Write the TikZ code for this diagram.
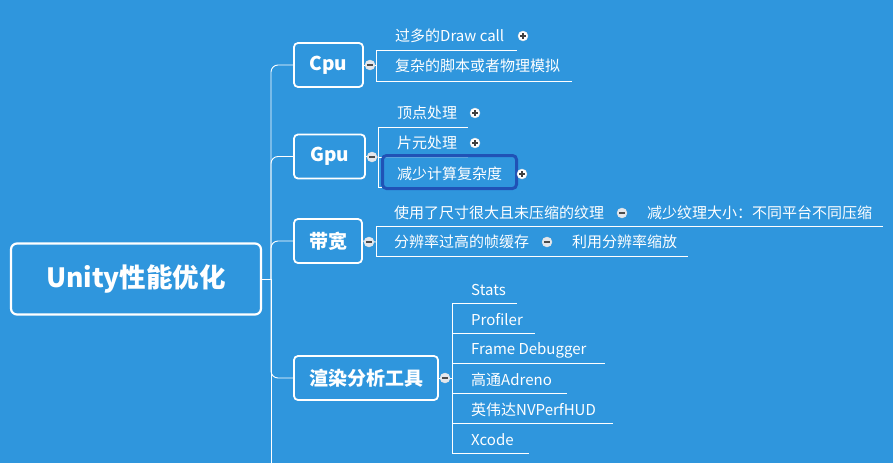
\documentclass[tikz,border=0pt]{standalone}
\usepackage{fontspec}
\setmainfont{Noto Sans CJK SC}
\definecolor{bg}{RGB}{47,150,221}
\definecolor{selc}{RGB}{32,82,182}
\definecolor{knob}{RGB}{228,231,236}
\begin{document}
\begin{tikzpicture}[x=1pt,y=-1pt,
  line/.style={draw=white,line width=0.9pt},
  topicbox/.style={draw=white,line width=1.8pt,rounded corners=4pt,text=white,
    font=\bfseries\fontsize{19}{22}\selectfont,inner sep=0pt,minimum height=44pt},
  leaf/.style={anchor=west,inner sep=0pt,text=white,font=\fontsize{15}{18}\selectfont},
  minusknob/.style={circle,fill=knob,draw=white!80!gray,line width=0.4pt,minimum size=10pt,inner sep=0pt,
    path picture={\draw[black!70,line width=1.3pt] ([xshift=-2.6pt]path picture bounding box.center) -- ([xshift=2.6pt]path picture bounding box.center);}},
  plusknob/.style={circle,fill=white,draw=white!80!gray,line width=0.4pt,minimum size=10pt,inner sep=0pt,
    path picture={\draw[black!75,line width=1.2pt] ([xshift=-2.6pt]path picture bounding box.center) -- ([xshift=2.6pt]path picture bounding box.center)
      ([yshift=-2.6pt]path picture bounding box.center) -- ([yshift=2.6pt]path picture bounding box.center);}}
]
\fill[bg] (0,0) rectangle (893,463);
\useasboundingbox (0,0) rectangle (893,463);

% root
\node[draw=white,line width=2.2pt,rounded corners=6pt,minimum width=250pt,minimum height=71pt,inner sep=0pt,
  text=white,font=\bfseries\fontsize{26.5}{30}\selectfont] (root) at (136,279) {Unity性能优化};

% main topics
\node[topicbox,minimum width=69pt] (cpu) at (328.5,65) {Cpu};
\node[topicbox,minimum width=71pt] (gpu) at (329.5,156.5) {Gpu};
\node[topicbox,minimum width=68pt] (bw) at (328,241) {带宽};
\node[topicbox,minimum width=144pt] (tool) at (366,378) {渲染分析工具};

% trunk
\coordinate (hub) at (271,279);
\coordinate (bottom) at (271,470);
\draw[line] (root.east) -- (hub);
\draw[line,rounded corners=7pt] (hub) |- (cpu.west);
\draw[line,rounded corners=7pt] (hub) |- (gpu.west);
\draw[line,rounded corners=7pt] (hub) |- (bw.west);
\draw[line,rounded corners=7pt] (hub) |- (tool.west);
\draw[line] (hub) -- (bottom);

% ---------- Cpu ----------
\coordinate (cpuT) at (376,50); \coordinate (cpuTE) at (517,50);
\coordinate (cpuB) at (376,81); \coordinate (cpuBE) at (572,81);
\coordinate (cpuM) at (376,65);
\draw[line] (cpuT) -- (cpuTE);
\draw[line] (cpuB) -- (cpuBE);
\draw[line] (cpuT) -- (cpuB);
\draw[line] (cpu.east) -- (cpuM);
\node[minusknob] (cpuK) at (370,65) {};
\node[leaf] (c1) at (395,36) {过多的Draw call};
\node[leaf] (c2) at (395,66) {复杂的脚本或者物理模拟};
\node[plusknob] (c1p) at (523,36) {};

% ---------- Gpu ----------
\coordinate (gpuT) at (378,127); \coordinate (gpuTE) at (468,127);
\coordinate (gpuMid) at (378,157); \coordinate (gpuME) at (468,157);
\coordinate (gpuB) at (378,187); \coordinate (gpuBE) at (515,187);
\draw[line] (gpuT) -- (gpuTE);
\draw[line] (gpuMid) -- (gpuME);
\draw[line] (gpuB) -- (gpuBE);
\draw[line] (gpuT) -- (gpuB);
\draw[line] (gpu.east) -- (gpuMid);
\node[minusknob] (gpuK) at (372,157) {};
\node[leaf] (g1) at (397,113) {顶点处理};
\node[leaf] (g2) at (397,143) {片元处理};
\draw[selc,line width=3pt,rounded corners=4pt,fill=bg,fill opacity=0.75] (382.5,155.5) rectangle (516.5,188.5);
\node[leaf] (g3) at (397,174) {减少计算复杂度};
\node[plusknob] (g1p) at (475,113) {};
\node[plusknob] (g2p) at (475,143) {};
\node[plusknob] (g3p) at (522,174) {};

% ---------- 带宽 ----------
\coordinate (bwT) at (376,226.5); \coordinate (bwTE) at (883,226.5);
\coordinate (bwB) at (376,256); \coordinate (bwBE) at (688,256);
\coordinate (bwM) at (376,242);
\draw[line] (bwT) -- (bwTE);
\draw[line] (bwB) -- (bwBE);
\draw[line] (bwT) -- (bwB);
\draw[line] (bw.east) -- (bwM);
\node[minusknob] (bwK) at (369,242) {};
\node[leaf] (b1) at (394,213) {使用了尺寸很大且未压缩的纹理};
\node[minusknob] (b1k) at (622,213) {};
\node[leaf] (b1a) at (647,213) {减少纹理大小：不同平台不同压缩};
\node[leaf] (b2) at (394,242) {分辨率过高的帧缓存};
\node[minusknob] (b2k) at (547,242) {};
\node[leaf] (b2a) at (572,242) {利用分辨率缩放};

% ---------- 渲染分析工具 ----------
\coordinate (tT) at (452,303); \coordinate (tB) at (452,453);
\coordinate (tM) at (452,378);
\draw[line] (tT) -- (tB);
\draw[line] (tool.east) -- (tM);
\foreach \i/\txt/\e in {0/Stats/517,1/Profiler/535,2/Frame Debugger/605,3/高通Adreno/567,4/英伟达NVPerfHUD/613,5/Xcode/529}{
  \coordinate (tl\i) at (452,303+30*\i);
  \coordinate (te\i) at (\e,303+30*\i);
  \draw[line] (tl\i) -- (te\i);
  \node[leaf] (t\i) at (471,290+30*\i) {\txt};
}
\node[minusknob] (toolK) at (445,378) {};
\end{tikzpicture}
\end{document}
